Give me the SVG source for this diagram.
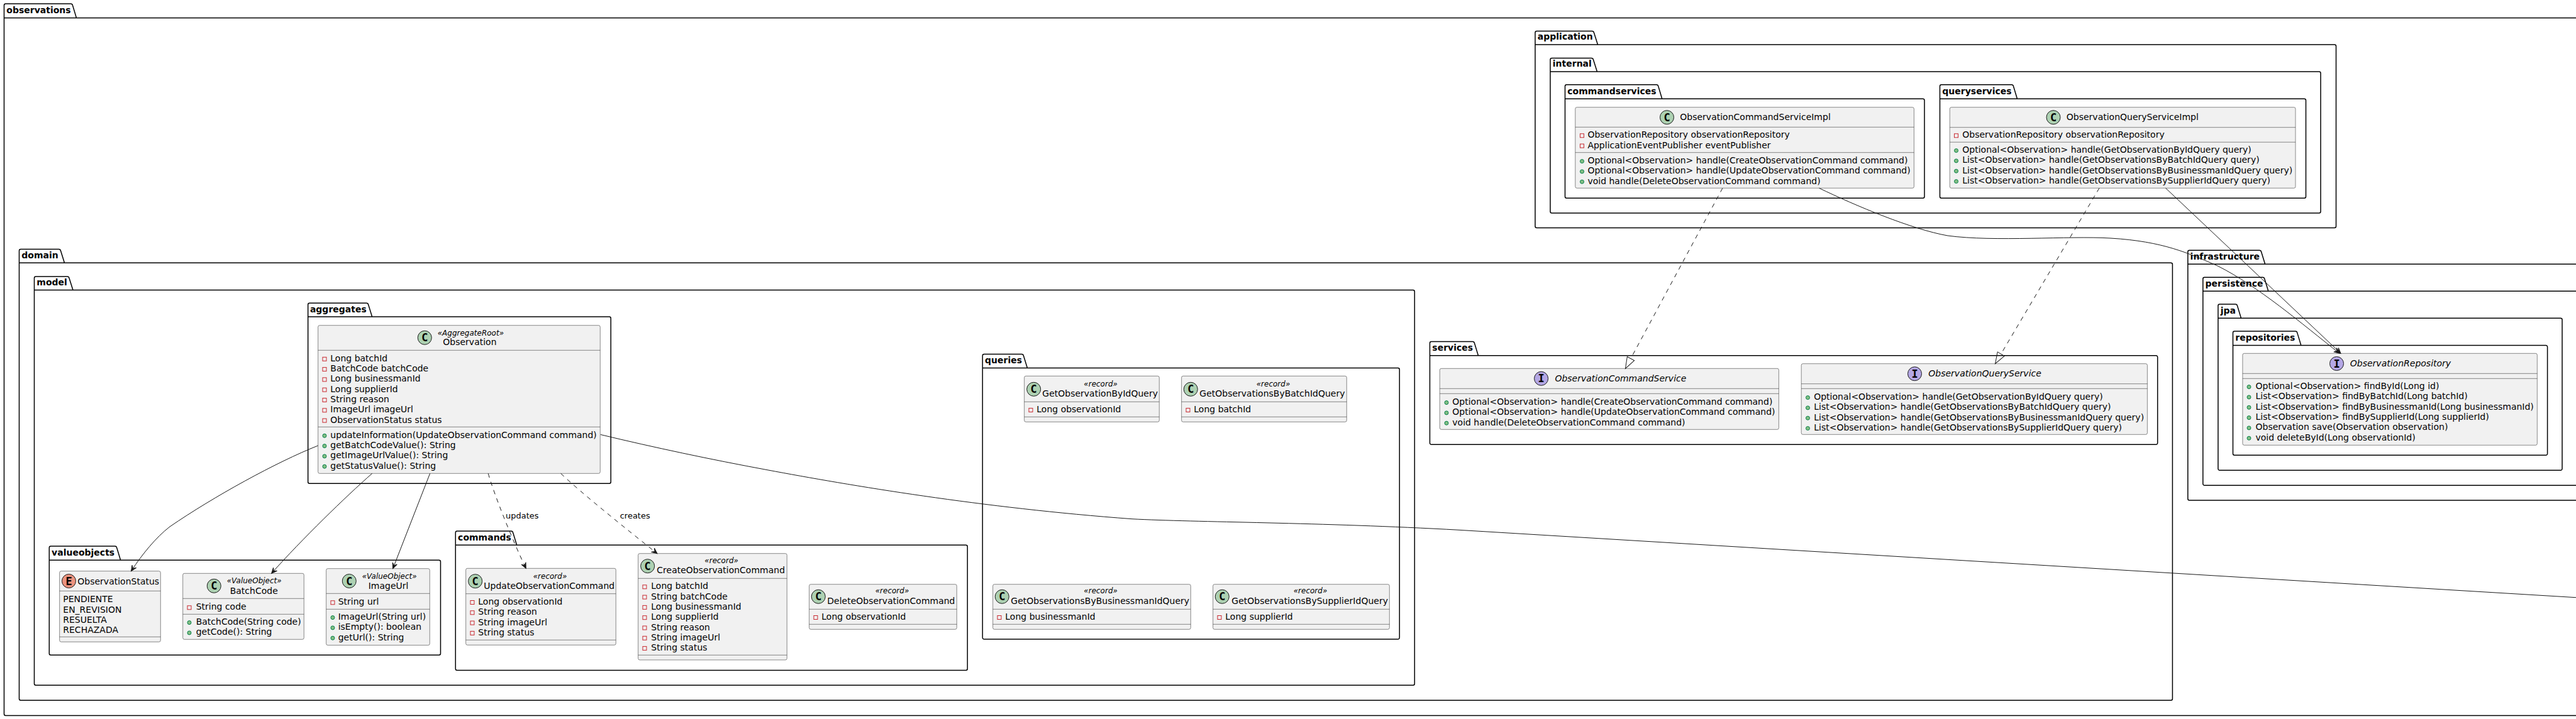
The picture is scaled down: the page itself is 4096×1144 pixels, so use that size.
<svg xmlns="http://www.w3.org/2000/svg" xmlns:xlink="http://www.w3.org/1999/xlink" width="4096" height="1144" viewBox="0 0 4096 1144">
<style>
text{font-family:"DejaVu Sans",sans-serif;font-size:14px;fill:#000}
.pk{fill:none;stroke:#000;stroke-width:1.5}
.pn{font-weight:bold}
.b{fill:#F1F1F1;stroke:#181818;stroke-width:.5}
.s{stroke:#181818;stroke-width:.5}
.st{font-size:12px;font-style:italic}
.it{font-style:italic}
.ic{stroke:#181818;stroke-width:1}
.cc{fill:#ADD1B2}.ce{fill:#EB937F}.ci{fill:#B4A7E5}
.g{font-family:"DejaVu Sans Mono",monospace;font-size:17px;font-weight:bold;text-anchor:middle}
.e{fill:none;stroke:#181818;stroke-width:1}
.d{stroke-dasharray:7,7}
.a{marker-end:url(#open)}
.r{marker-end:url(#tri)}
.l{font-size:13px}
</style>
<defs>
<rect id="pr" width="6" height="6" fill="none" stroke="#C82930"/>
<circle id="pu" cx="3" cy="3" r="3" fill="#84BE84" stroke="#038048"/>
<marker id="open" markerUnits="userSpaceOnUse" markerWidth="12" markerHeight="12" refX="9" refY="6" orient="auto" viewBox="0 0 12 12"><path d="M0,2 L9,6 L0,10 L4,6 Z" fill="#181818" stroke="#181818"/></marker>
<marker id="tri" markerUnits="userSpaceOnUse" markerWidth="22" markerHeight="16" refX="1" refY="8" orient="auto" viewBox="0 0 22 16"><path d="M1,1.6 L19,8 L1,14.4 Z" fill="none" stroke="#181818"/></marker>
</defs>

<g id="packages">
<g id="pkg-observations"><path class="pk" d="M6.5,8.5 A2.5,2.5 0 0 1 9,6 L112.5,6 Q115,6 115.5,8.5 L121.5,28.5 L4300,28.5 L4300,1138.5 L9,1138.5 A2.5,2.5 0 0 1 6.5,1136 Z M6.5,28.5 L121.5,28.5"/><text class="pn" x="10.3" y="20.8">observations</text></g>
<g id="pkg-application"><path class="pk" d="M2441,52 A2.5,2.5 0 0 1 2443.5,49.5 L2531.5,49.5 Q2534,49.5 2534.5,52 L2540.5,71 L3712,71 A2.5,2.5 0 0 1 3714.5,73.5 L3714.5,360 A2.5,2.5 0 0 1 3712,362.5 L2443.5,362.5 A2.5,2.5 0 0 1 2441,360 Z M2441,71 L2540.5,71"/><text class="pn" x="2444.8" y="63.4">application</text></g>
<g id="pkg-internal"><path class="pk" d="M2465,95 A2.5,2.5 0 0 1 2467.5,92.5 L2530.5,92.5 Q2533,92.5 2533.5,95 L2539.5,114 L3687.5,114 A2.5,2.5 0 0 1 3690,116.5 L3690,336.5 A2.5,2.5 0 0 1 3687.5,339 L2467.5,339 A2.5,2.5 0 0 1 2465,336.5 Z M2465,114 L2539.5,114"/><text class="pn" x="2468.8" y="106.4">internal</text></g>
<g id="pkg-commandservices"><path class="pk" d="M2488.5,137.2 A2.5,2.5 0 0 1 2491,134.7 L2633.8,134.7 Q2636.3,134.7 2636.8,137.2 L2642.8,157.3 L3057.5,157.3 A2.5,2.5 0 0 1 3060,159.8 L3060,312.8 A2.5,2.5 0 0 1 3057.5,315.3 L2491,315.3 A2.5,2.5 0 0 1 2488.5,312.8 Z M2488.5,157.3 L2642.8,157.3"/><text class="pn" x="2492.3" y="149.7">commandservices</text></g>
<g id="pkg-queryservices"><path class="pk" d="M3084.5,137.2 A2.5,2.5 0 0 1 3087,134.7 L3198.5,134.7 Q3201,134.7 3201.5,137.2 L3207.5,157.3 L3664,157.3 A2.5,2.5 0 0 1 3666.5,159.8 L3666.5,312.8 A2.5,2.5 0 0 1 3664,315.3 L3087,315.3 A2.5,2.5 0 0 1 3084.5,312.8 Z M3084.5,157.3 L3207.5,157.3"/><text class="pn" x="3088.3" y="149.7">queryservices</text></g>
<g id="pkg-domain"><path class="pk" d="M30.5,399 A2.5,2.5 0 0 1 33,396.5 L93.5,396.5 Q96,396.5 96.5,399 L102.5,418.3 L3451.9,418.3 A2.5,2.5 0 0 1 3454.4,420.8 L3454.4,1111.8 A2.5,2.5 0 0 1 3451.9,1114.3 L33,1114.3 A2.5,2.5 0 0 1 30.5,1111.8 Z M30.5,418.3 L102.5,418.3"/><text class="pn" x="34.3" y="410.7">domain</text></g>
<g id="pkg-model"><path class="pk" d="M54.5,442.5 A2.5,2.5 0 0 1 57,440 L107,440 Q109.5,440 110,442.5 L116,461.5 L2246.8,461.5 A2.5,2.5 0 0 1 2249.3,464 L2249.3,1087.8 A2.5,2.5 0 0 1 2246.8,1090.3 L57,1090.3 A2.5,2.5 0 0 1 54.5,1087.8 Z M54.5,461.5 L116,461.5"/><text class="pn" x="58.3" y="453.9">model</text></g>
<g id="pkg-aggregates"><path class="pk" d="M489.7,484.8 A2.5,2.5 0 0 1 492.2,482.3 L582.7,482.3 Q585.2,482.3 585.7,484.8 L591.7,504 L968.8,504 A2.5,2.5 0 0 1 971.3,506.5 L971.3,766.8 A2.5,2.5 0 0 1 968.8,769.3 L492.2,769.3 A2.5,2.5 0 0 1 489.7,766.8 Z M489.7,504 L591.7,504"/><text class="pn" x="492.9" y="496.6">aggregates</text></g>
<g id="pkg-valueobjects"><path class="pk" d="M78.3,871.5 A2.5,2.5 0 0 1 80.8,869 L182.7,869 Q185.2,869 185.7,871.5 L191.7,891.3 L698,891.3 A2.5,2.5 0 0 1 700.5,893.8 L700.5,1039.8 A2.5,2.5 0 0 1 698,1042.3 L80.8,1042.3 A2.5,2.5 0 0 1 78.3,1039.8 Z M78.3,891.3 L191.7,891.3"/><text class="pn" x="82.1" y="883.7">valueobjects</text></g>
<g id="pkg-commands"><path class="pk" d="M724.3,847.5 A2.5,2.5 0 0 1 726.8,845 L812.7,845 Q815.2,845 815.7,847.5 L821.7,867.3 L1535.8,867.3 A2.5,2.5 0 0 1 1538.3,869.8 L1538.3,1064 A2.5,2.5 0 0 1 1535.8,1066.5 L726.8,1066.5 A2.5,2.5 0 0 1 724.3,1064 Z M724.3,867.3 L821.7,867.3"/><text class="pn" x="728.1" y="859.7">commands</text></g>
<g id="pkg-queries"><path class="pk" d="M1562.3,566 A2.5,2.5 0 0 1 1564.8,563.5 L1624.5,563.5 Q1627,563.5 1627.5,566 L1633.5,585.5 L2222.8,585.5 A2.5,2.5 0 0 1 2225.3,588 L2225.3,1014.5 A2.5,2.5 0 0 1 2222.8,1017 L1564.8,1017 A2.5,2.5 0 0 1 1562.3,1014.5 Z M1562.3,585.5 L1633.5,585.5"/><text class="pn" x="1566.1" y="577.9">queries</text></g>
<g id="pkg-services"><path class="pk" d="M2273.5,546 A2.5,2.5 0 0 1 2276,543.5 L2341.5,543.5 Q2344,543.5 2344.5,546 L2350.5,565.7 L3428.2,565.7 A2.5,2.5 0 0 1 3430.7,568.2 L3430.7,704.8 A2.5,2.5 0 0 1 3428.2,707.3 L2276,707.3 A2.5,2.5 0 0 1 2273.5,704.8 Z M2273.5,565.7 L2350.5,565.7"/><text class="pn" x="2277.3" y="558.1">services</text></g>
<g id="pkg-infrastructure"><path class="pk" d="M3478.8,400.8 A2.5,2.5 0 0 1 3481.3,398.3 L3592.6,398.3 Q3595.1,398.3 3595.6,400.8 L3601.6,420.3 L4300,420.3 L4300,796 L3481.3,796 A2.5,2.5 0 0 1 3478.8,793.5 Z M3478.8,420.3 L3601.6,420.3"/><text class="pn" x="3482.6" y="412.7">infrastructure</text></g>
<g id="pkg-persistence"><path class="pk" d="M3502.8,443.8 A2.5,2.5 0 0 1 3505.3,441.3 L3597.8,441.3 Q3600.3,441.3 3600.8,443.8 L3606.8,463.3 L4300,463.3 L4300,772.3 L3505.3,772.3 A2.5,2.5 0 0 1 3502.8,769.8 Z M3502.8,463.3 L3606.8,463.3"/><text class="pn" x="3506.6" y="455.7">persistence</text></g>
<g id="pkg-jpa"><path class="pk" d="M3526.9,486.5 A2.5,2.5 0 0 1 3529.4,484 L3554.5,484 Q3557,484 3557.5,486.5 L3563.5,506.3 L4071.5,506.3 A2.5,2.5 0 0 1 4074,508.8 L4074,745.8 A2.5,2.5 0 0 1 4071.5,748.3 L3529.4,748.3 A2.5,2.5 0 0 1 3526.9,745.8 Z M3526.9,506.3 L3563.5,506.3"/><text class="pn" x="3530.7" y="498.7">jpa</text></g>
<g id="pkg-repositories"><path class="pk" d="M3550.5,529.6 A2.5,2.5 0 0 1 3553,527.1 L3649.8,527.1 Q3652.3,527.1 3652.8,529.6 L3658.8,549.5 L4048.1,549.5 A2.5,2.5 0 0 1 4050.6,552 L4050.6,721.8 A2.5,2.5 0 0 1 4048.1,724.3 L3553,724.3 A2.5,2.5 0 0 1 3550.5,721.8 Z M3550.5,549.5 L3658.8,549.5"/><text class="pn" x="3554.3" y="541.9">repositories</text></g>
</g>

<g id="Observation">
<rect class="b" x="505.7" y="517.7" width="448.6" height="235.6" rx="2.5"/>
<path class="s" d="M505.7,557.3 H954.3 M505.7,679.3 H954.3"/>
<circle class="ic cc" cx="675.3" cy="537.3" r="11"/><text class="g" x="675.3" y="543.4">C</text>
<text class="st" x="695.7" y="533.6">«AggregateRoot»</text><text x="704.3" y="549">Observation</text>
<use href="#pr" x="513" y="568.3"/><text x="525.3" y="574.7">Long batchId</text>
<use href="#pr" x="513" y="584.6"/><text x="525.3" y="591">BatchCode batchCode</text>
<use href="#pr" x="513" y="600.9"/><text x="525.3" y="607.3">Long businessmanId</text>
<use href="#pr" x="513" y="617.2"/><text x="525.3" y="623.6">Long supplierId</text>
<use href="#pr" x="513" y="633.5"/><text x="525.3" y="640">String reason</text>
<use href="#pr" x="513" y="649.8"/><text x="525.3" y="656.3">ImageUrl imageUrl</text>
<use href="#pr" x="513" y="666.1"/><text x="525.3" y="672.6">ObservationStatus status</text>
<use href="#pu" x="513" y="690.3"/><text x="525.3" y="696.7">updateInformation(UpdateObservationCommand command)</text>
<use href="#pu" x="513" y="706.6"/><text x="525.3" y="713">getBatchCodeValue(): String</text>
<use href="#pu" x="513" y="722.9"/><text x="525.3" y="729.3">getImageUrlValue(): String</text>
<use href="#pu" x="513" y="739.2"/><text x="525.3" y="745.6">getStatusValue(): String</text>
</g>

<g id="ObservationStatus">
<rect class="b" x="94.7" y="908.7" width="160.6" height="112.6" rx="2.5"/>
<path class="s" d="M94.7,940.3 H255.3 M94.7,1013.3 H255.3"/>
<circle class="ic ce" cx="109.5" cy="924.5" r="11"/><text class="g" x="109.5" y="930.6">E</text>
<text x="123.3" y="930">ObservationStatus</text>
<text x="100.3" y="958.3">PENDIENTE</text><text x="100.3" y="974.6">EN_REVISION</text><text x="100.3" y="990.9">RESUELTA</text><text x="100.3" y="1007.2">RECHAZADA</text>
</g>

<g id="BatchCode">
<rect class="b" x="290.7" y="912.3" width="192.6" height="105" rx="2.5"/>
<path class="s" d="M290.7,952.3 H483.3 M290.7,977.3 H483.3"/>
<circle class="ic cc" cx="340.3" cy="932.3" r="11"/><text class="g" x="340.3" y="938.4">C</text>
<text class="st" x="360.7" y="928.3">«ValueObject»</text><text x="365.7" y="945">BatchCode</text>
<use href="#pr" x="298" y="963.8"/><text x="311.7" y="970.3">String code</text>
<use href="#pu" x="298" y="987.6"/><text x="311.7" y="994">BatchCode(String code)</text>
<use href="#pu" x="298" y="1003.9"/><text x="311.7" y="1010.3">getCode(): String</text>
</g>

<g id="ImageUrl">
<rect class="b" x="518.7" y="904.7" width="164.6" height="121.9" rx="2.5"/>
<path class="s" d="M518.7,944.3 H683.3 M518.7,969.3 H683.3"/>
<circle class="ic cc" cx="555.3" cy="924.5" r="11"/><text class="g" x="555.3" y="930.6">C</text>
<text class="st" x="575.7" y="920.7">«ValueObject»</text><text x="585.7" y="937.4">ImageUrl</text>
<use href="#pr" x="526" y="955.8"/><text x="537.7" y="962.3">String url</text>
<use href="#pu" x="526" y="979.6"/><text x="537.7" y="986">ImageUrl(String url)</text>
<use href="#pu" x="526" y="995.9"/><text x="537.7" y="1002.3">isEmpty(): boolean</text>
<use href="#pu" x="526" y="1012.2"/><text x="537.7" y="1018.6">getUrl(): String</text>
</g>

<g id="UpdateObservationCommand">
<rect class="b" x="740.7" y="904.3" width="238.6" height="122" rx="2.5"/>
<path class="s" d="M740.7,944.7 H979.3 M740.7,1018.3 H979.3"/>
<circle class="ic cc" cx="755.7" cy="924.7" r="11"/><text class="g" x="755.7" y="930.8">C</text>
<text class="st" x="847.7" y="920.7">«record»</text><text x="769.3" y="937.3">UpdateObservationCommand</text>
<use href="#pr" x="748" y="955.5"/><text x="760.3" y="962">Long observationId</text>
<use href="#pr" x="748" y="971.8"/><text x="760.3" y="978.3">String reason</text>
<use href="#pr" x="748" y="988.1"/><text x="760.3" y="994.6">String imageUrl</text>
<use href="#pr" x="748" y="1004.4"/><text x="760.3" y="1011">String status</text>
</g>

<g id="CreateObservationCommand">
<rect class="b" x="1014.7" y="880.7" width="236.6" height="169.3" rx="2.5"/>
<path class="s" d="M1014.7,920.3 H1251.3 M1014.7,1042.3 H1251.3"/>
<circle class="ic cc" cx="1029.7" cy="900.7" r="11"/><text class="g" x="1029.7" y="906.8">C</text>
<text class="st" x="1120.3" y="895.7">«record»</text><text x="1044.3" y="912">CreateObservationCommand</text>
<use href="#pr" x="1022" y="930.8"/><text x="1035.3" y="937.3">Long batchId</text>
<use href="#pr" x="1022" y="947.1"/><text x="1035.3" y="953.6">String batchCode</text>
<use href="#pr" x="1022" y="963.4"/><text x="1035.3" y="969.9">Long businessmanId</text>
<use href="#pr" x="1022" y="979.7"/><text x="1035.3" y="986.2">Long supplierId</text>
<use href="#pr" x="1022" y="996"/><text x="1035.3" y="1002.5">String reason</text>
<use href="#pr" x="1022" y="1012.3"/><text x="1035.3" y="1018.8">String imageUrl</text>
<use href="#pr" x="1022" y="1028.6"/><text x="1035.3" y="1035.1">String status</text>
</g>

<g id="DeleteObservationCommand">
<rect class="b" x="1286.7" y="929.7" width="234.6" height="71.6" rx="2.5"/>
<path class="s" d="M1286.7,969.3 H1521.3 M1286.7,993.3 H1521.3"/>
<circle class="ic cc" cx="1301.3" cy="949.3" r="11"/><text class="g" x="1301.3" y="955.4">C</text>
<text class="st" x="1391.7" y="944.3">«record»</text><text x="1315.3" y="961">DeleteObservationCommand</text>
<use href="#pr" x="1294" y="979.5"/><text x="1306.3" y="986">Long observationId</text>
</g>

<g id="GetObservationByIdQuery">
<rect class="b" x="1628.7" y="598.3" width="214.6" height="73" rx="2.5"/>
<path class="s" d="M1628.7,639.3 H1843.3 M1628.7,663.3 H1843.3"/>
<circle class="ic cc" cx="1643.7" cy="619.3" r="11"/><text class="g" x="1643.7" y="625.4">C</text>
<text class="st" x="1723.3" y="614.7">«record»</text><text x="1657.3" y="631">GetObservationByIdQuery</text>
<use href="#pr" x="1636" y="649.5"/><text x="1648.3" y="656">Long observationId</text>
</g>

<g id="GetObservationsByBatchIdQuery">
<rect class="b" x="1878.7" y="598.3" width="262.6" height="73" rx="2.5"/>
<path class="s" d="M1878.7,639.3 H2141.3 M1878.7,663.3 H2141.3"/>
<circle class="ic cc" cx="1893.3" cy="619.3" r="11"/><text class="g" x="1893.3" y="625.4">C</text>
<text class="st" x="1997.7" y="614.7">«record»</text><text x="1907.3" y="631">GetObservationsByBatchIdQuery</text>
<use href="#pr" x="1886" y="649.5"/><text x="1898.3" y="656">Long batchId</text>
</g>

<g id="GetObservationsByBusinessmanIdQuery">
<rect class="b" x="1578.7" y="929.7" width="314.6" height="71.6" rx="2.5"/>
<path class="s" d="M1578.7,969.3 H1893.3 M1578.7,993.3 H1893.3"/>
<circle class="ic cc" cx="1593.3" cy="949.3" r="11"/><text class="g" x="1593.3" y="955.4">C</text>
<text class="st" x="1723.3" y="944.3">«record»</text><text x="1607.3" y="961">GetObservationsByBusinessmanIdQuery</text>
<use href="#pr" x="1586" y="979.5"/><text x="1598.3" y="986">Long businessmanId</text>
</g>

<g id="GetObservationsBySupplierIdQuery">
<rect class="b" x="1928.7" y="929.7" width="280.6" height="71.6" rx="2.5"/>
<path class="s" d="M1928.7,969.3 H2209.3 M1928.7,993.3 H2209.3"/>
<circle class="ic cc" cx="1943.3" cy="949.3" r="11"/><text class="g" x="1943.3" y="955.4">C</text>
<text class="st" x="2056.7" y="944.3">«record»</text><text x="1958.3" y="961">GetObservationsBySupplierIdQuery</text>
<use href="#pr" x="1936" y="979.5"/><text x="1948.3" y="986">Long supplierId</text>
</g>

<g id="ObservationCommandService">
<rect class="b" x="2289.3" y="586.3" width="539.1" height="97" rx="2.5"/>
<path class="s" d="M2289.3,618.3 H2828.4 M2289.3,626.3 H2828.4"/>
<circle class="ic ci" cx="2450.6" cy="602.3" r="11"/><text class="g" x="2450.6" y="608.4">I</text>
<text class="it" x="2472.4" y="607">ObservationCommandService</text>
<use href="#pu" x="2297" y="637.6"/><text x="2309.3" y="644">Optional&lt;Observation&gt; handle(CreateObservationCommand command)</text>
<use href="#pu" x="2297" y="653.9"/><text x="2309.3" y="660.3">Optional&lt;Observation&gt; handle(UpdateObservationCommand command)</text>
<use href="#pu" x="2297" y="670.2"/><text x="2309.3" y="676.6">void handle(DeleteObservationCommand command)</text>
</g>

<g id="ObservationQueryService">
<rect class="b" x="2864.2" y="578.7" width="550.2" height="112.6" rx="2.5"/>
<path class="s" d="M2864.2,610.7 H3414.4 M2864.2,618.3 H3414.4"/>
<circle class="ic ci" cx="3044.5" cy="594.7" r="11"/><text class="g" x="3044.5" y="600.8">I</text>
<text class="it" x="3066.3" y="599.3">ObservationQueryService</text>
<use href="#pu" x="2871.5" y="629.6"/><text x="2884.2" y="636">Optional&lt;Observation&gt; handle(GetObservationByIdQuery query)</text>
<use href="#pu" x="2871.5" y="645.9"/><text x="2884.2" y="652.3">List&lt;Observation&gt; handle(GetObservationsByBatchIdQuery query)</text>
<use href="#pu" x="2871.5" y="662.2"/><text x="2884.2" y="668.6">List&lt;Observation&gt; handle(GetObservationsByBusinessmanIdQuery query)</text>
<use href="#pu" x="2871.5" y="678.5"/><text x="2884.2" y="685">List&lt;Observation&gt; handle(GetObservationsBySupplierIdQuery query)</text>
</g>

<g id="ObservationCommandServiceImpl">
<rect class="b" x="2504.8" y="170.7" width="538.6" height="128.6" rx="2.5"/>
<path class="s" d="M2504.8,202.3 H3043.4 M2504.8,242.7 H3043.4"/>
<circle class="ic cc" cx="2650.5" cy="186.7" r="11"/><text class="g" x="2650.5" y="192.8">C</text>
<text x="2671.3" y="191.3">ObservationCommandServiceImpl</text>
<use href="#pr" x="2512.5" y="212.8"/><text x="2524.4" y="219.3">ObservationRepository observationRepository</text>
<use href="#pr" x="2512.5" y="229.1"/><text x="2524.4" y="235.6">ApplicationEventPublisher eventPublisher</text>
<use href="#pu" x="2512.5" y="253.6"/><text x="2524.4" y="260">Optional&lt;Observation&gt; handle(CreateObservationCommand command)</text>
<use href="#pu" x="2512.5" y="269.9"/><text x="2524.4" y="276.3">Optional&lt;Observation&gt; handle(UpdateObservationCommand command)</text>
<use href="#pu" x="2512.5" y="286.2"/><text x="2524.4" y="292.6">void handle(DeleteObservationCommand command)</text>
</g>

<g id="ObservationQueryServiceImpl">
<rect class="b" x="3100.3" y="170.7" width="549.7" height="128.6" rx="2.5"/>
<path class="s" d="M3100.3,202.7 H3650 M3100.3,226.2 H3650"/>
<circle class="ic cc" cx="3265" cy="186.7" r="11"/><text class="g" x="3265" y="192.8">C</text>
<text x="3285.8" y="191.3">ObservationQueryServiceImpl</text>
<use href="#pr" x="3107.5" y="212.8"/><text x="3120.3" y="219.3">ObservationRepository observationRepository</text>
<use href="#pu" x="3107.5" y="236.6"/><text x="3120.3" y="243">Optional&lt;Observation&gt; handle(GetObservationByIdQuery query)</text>
<use href="#pu" x="3107.5" y="252.9"/><text x="3120.3" y="259.3">List&lt;Observation&gt; handle(GetObservationsByBatchIdQuery query)</text>
<use href="#pu" x="3107.5" y="269.2"/><text x="3120.3" y="275.6">List&lt;Observation&gt; handle(GetObservationsByBusinessmanIdQuery query)</text>
<use href="#pu" x="3107.5" y="285.6"/><text x="3120.3" y="292">List&lt;Observation&gt; handle(GetObservationsBySupplierIdQuery query)</text>
</g>

<g id="ObservationRepository">
<rect class="b" x="3565.9" y="562.3" width="468.4" height="146" rx="2.5"/>
<path class="s" d="M3565.9,594.3 H4034.3 M3565.9,602.3 H4034.3"/>
<circle class="ic ci" cx="3715.5" cy="578.5" r="11"/><text class="g" x="3715.5" y="584.6">I</text>
<text class="it" x="3736.8" y="583">ObservationRepository</text>
<use href="#pu" x="3573" y="612.6"/><text x="3586.5" y="619">Optional&lt;Observation&gt; findById(Long id)</text>
<use href="#pu" x="3573" y="628.9"/><text x="3586.5" y="635.3">List&lt;Observation&gt; findByBatchId(Long batchId)</text>
<use href="#pu" x="3573" y="645.2"/><text x="3586.5" y="651.6">List&lt;Observation&gt; findByBusinessmanId(Long businessmanId)</text>
<use href="#pu" x="3573" y="661.6"/><text x="3586.5" y="668">List&lt;Observation&gt; findBySupplierId(Long supplierId)</text>
<use href="#pu" x="3573" y="677.9"/><text x="3586.5" y="684.3">Observation save(Observation observation)</text>
<use href="#pu" x="3573" y="694.2"/><text x="3586.5" y="700.6">void deleteById(Long observationId)</text>
</g>

<g id="connectors">
<path class="e a" d="M505.7,709 C440,735 340,790 270,838 C248,855 226,882 208.5,908.7"/>
<path class="e a" d="M591.7,753.3 C550,790 480,858 431.7,912.3"/>
<path class="e a" d="M683.7,753.3 L624.7,904.7"/>
<path class="e d a" d="M776.3,753.3 C785,785 815,860 836.3,904.3"/>
<path class="e d a" d="M891.7,753.3 C925,785 1000,845 1045,880.7"/>
<path class="e" d="M955,691.5 C1040,712 1130,731 1220,747.7 C1350,772 1560,808 1800,825.7 C1900,831 2100,831 2320,843.3 L4200,957"/>
<path class="e d r" d="M2739,299.3 L2593,570.5"/>
<path class="e d r" d="M3338,299.3 L3181.7,563.2"/>
<path class="e a" d="M2892.5,299.3 C2950,327 3040,365 3097,375 C3170,385 3290,375 3356,379 C3440,384 3480,403 3526,423 C3590,455 3660,515 3720,562.3"/>
<path class="e a" d="M3443.5,299.3 L3722,562.3"/>
<text class="l" x="804" y="825">updates</text>
<text class="l" x="985.7" y="825">creates</text>
</g>
</svg>
